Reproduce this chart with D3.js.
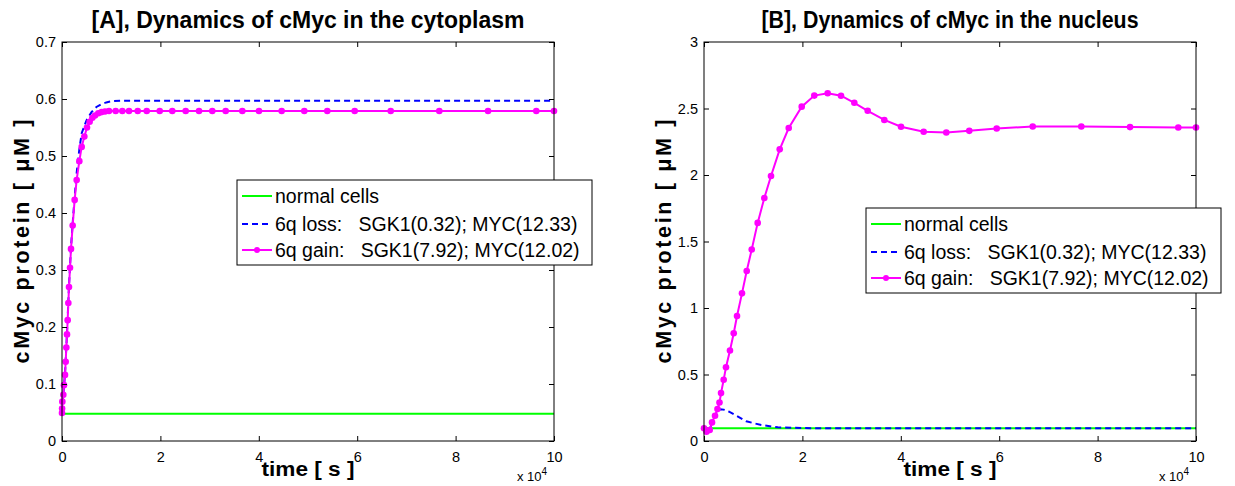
<!DOCTYPE html>
<html><head><meta charset="utf-8">
<script src="https://cdn.jsdelivr.net/npm/d3@7/dist/d3.min.js"></script>
<style>
body{margin:0;background:#fff;}
text{font-family:"Liberation Sans",Arial,sans-serif;fill:#000;}
</style></head><body>
<svg id="chart" width="1235" height="486"></svg>
<script>
// ---------- Panel A: cytoplasm ----------
const titleA = "[A], Dynamics of cMyc in the cytoplasm";
const yTicksA = [0, 0.1, 0.2, 0.3, 0.4, 0.5, 0.6, 0.7];
const yTickLabelsA = ["0", "0.1", "0.2", "0.3", "0.4", "0.5", "0.6", "0.7"];
const normalA = [[0, 0.048], [100000, 0.048]];
const lossA = [[0,0.049],[270,0.082],[610,0.118],[1020,0.19],[1420,0.272],[1830,0.34],[2170,0.382],[2570,0.428],[3000,0.472],[3500,0.51],[4000,0.54],[5000,0.563],[6000,0.577],[7000,0.586],[8000,0.591],[9000,0.594],[10000,0.596],[12000,0.597],[20000,0.597],[100000,0.597]];
const gainTimeA = [0,20,70,270,400,610,750,880,1020,1150,1290,1420,1630,1830,2170,2570,2980,3520,4000,4540,5080,5620,6170,6700,7380,8060,8740,9550,10910,12260,13620,15390,17220,19860,22420,25140,27850,30550,33270,36650,40040,44650,49250,53920,59490,66810,76690,86590,96400,100000];
const gainA = [0.049,0.057,0.069,0.081,0.098,0.116,0.139,0.164,0.187,0.212,0.242,0.270,0.304,0.337,0.378,0.423,0.458,0.491,0.516,0.534,0.550,0.560,0.567,0.571,0.575,0.577,0.578,0.579,0.579,0.579,0.579,0.579,0.579,0.579,0.579,0.579,0.579,0.579,0.579,0.579,0.579,0.579,0.579,0.579,0.579,0.579,0.579,0.579,0.579,0.579];

// ---------- Panel B: nucleus ----------
const titleB = "[B], Dynamics of cMyc in the nucleus";
const yTicksB = [0, 0.5, 1, 1.5, 2, 2.5, 3];
const yTickLabelsB = ["0", "0.5", "1", "1.5", "2", "2.5", "3"];
const normalB = [[0, 0.095], [100000, 0.095]];
const lossB = [[0,0.095],[500,0.07],[1160,0.083],[1630,0.14],[2240,0.19],[2740,0.225],[3300,0.238],[4000,0.236],[5000,0.222],[6240,0.197],[8600,0.148],[11650,0.12],[15000,0.103],[20000,0.097],[30000,0.095],[100000,0.095]];
const gainTimeB = [0,500,1160,1630,2240,2740,3150,3460,4000,4470,5280,6040,6710,7720,8680,9700,10910,12260,13620,15390,17220,19860,22420,25140,27850,30550,33270,36650,40040,44650,49250,53920,59490,66810,76690,86590,96400,100000];
const gainB = [0.095,0.07,0.083,0.14,0.19,0.24,0.29,0.36,0.46,0.555,0.68,0.81,0.94,1.11,1.278,1.44,1.64,1.827,1.992,2.193,2.353,2.514,2.597,2.615,2.596,2.543,2.483,2.414,2.363,2.325,2.320,2.332,2.350,2.365,2.365,2.360,2.357,2.357];

// ---------- shared ----------
const xTicks = [0, 20000, 40000, 60000, 80000, 100000];
const xTickLabels = ["0", "2", "4", "6", "8", "10"];
const legendLabels = ["normal cells", "6q loss:   SGK1(0.32); MYC(12.33)", "6q gain:   SGK1(7.92); MYC(12.02)"];
const yLabel = "cMyc protein [ \u03BCM ]";
const xLabel = "time [ s ]";

const svg = d3.select("#chart");

function panel(cfg) {
  const {left, right, top, bottom, yMax, yTicks, yTickLabels, title, titleLen, normal, loss, gainT, gainV, legend} = cfg;
  const x = d3.scaleLinear().domain([0, 100000]).range([left, right]);
  const y = d3.scaleLinear().domain([0, yMax]).range([bottom, top]);
  const g = svg.append("g");

  const line = d3.line().x(d => x(d[0])).y(d => y(d[1]));
  const clip = "clip" + left;
  svg.append("clipPath").attr("id", clip).append("rect").attr("x", left).attr("y", top - 4).attr("width", right - left + 4).attr("height", bottom - top + 8);
  const pg = g.append("g").attr("clip-path", `url(#${clip})`);
  pg.append("path").attr("d", line(normal)).attr("fill", "none").attr("stroke", "#00ff00").attr("stroke-width", 2);
  pg.append("path").attr("d", line(loss)).attr("fill", "none").attr("stroke", "#0000ff").attr("stroke-width", 2).attr("stroke-dasharray", "6,4");
  const gain = gainT.map((t, i) => [t, gainV[i]]);
  pg.append("path").attr("d", line(gain)).attr("fill", "none").attr("stroke", "#ff00ff").attr("stroke-width", 2);
  g.selectAll(null).data(gain).enter().append("circle")
    .attr("cx", d => x(d[0])).attr("cy", d => y(d[1])).attr("r", 3.3).attr("fill", "#ff00ff");

  // box
  g.append("rect").attr("x", left).attr("y", top).attr("width", right - left).attr("height", bottom - top)
    .attr("fill", "none").attr("stroke", "#000").attr("stroke-width", 1);

  // axes (ticks inside)
  const xb = g.append("g").attr("transform", `translate(0,${bottom})`)
    .call(d3.axisBottom(x).tickValues(xTicks).tickFormat((d, i) => xTickLabels[i]).tickSizeInner(-5).tickSizeOuter(0).tickPadding(11));
  const xt = g.append("g").attr("transform", `translate(0,${top})`)
    .call(d3.axisTop(x).tickValues(xTicks).tickFormat("").tickSizeInner(-5).tickSizeOuter(0));
  const yl = g.append("g").attr("transform", `translate(${left},0)`)
    .call(d3.axisLeft(y).tickValues(yTicks).tickFormat((d, i) => yTickLabels[i]).tickSizeInner(-5).tickSizeOuter(0).tickPadding(6));
  const yr = g.append("g").attr("transform", `translate(${right},0)`)
    .call(d3.axisRight(y).tickValues(yTicks).tickFormat("").tickSizeInner(-5).tickSizeOuter(0));
  [xb, xt, yl, yr].forEach(a => {
    a.select(".domain").remove();
    a.selectAll("line").attr("stroke", "#000");
    a.selectAll("text").attr("font-size", 14.5).attr("font-family", "Liberation Sans, Arial, sans-serif").attr("fill", "#000");
  });

  // x10^4
  const ex = g.append("text").attr("x", right - 37).attr("y", bottom + 40).attr("font-size", 13);
  ex.append("tspan").text("x 10");
  ex.append("tspan").attr("dy", -6).attr("font-size", 10).text("4");

  // title
  g.append("text").attr("x", (left + right) / 2).attr("y", 28).attr("text-anchor", "middle")
    .attr("font-size", 23).attr("font-weight", "bold")
    .attr("textLength", titleLen).attr("lengthAdjust", "spacingAndGlyphs").text(title);
  // labels
  g.append("text").attr("x", (left + right) / 2).attr("y", bottom + 35).attr("text-anchor", "middle")
    .attr("font-size", 20).attr("font-weight", "bold")
    .attr("textLength", 93).attr("lengthAdjust", "spacingAndGlyphs").text(xLabel);
  g.append("text").attr("transform", `translate(${left - 33},${(top + bottom) / 2}) rotate(-90)`).attr("text-anchor", "middle")
    .attr("font-size", 21.5).attr("font-weight", "bold")
    .attr("textLength", 244).attr("lengthAdjust", "spacing").text(yLabel);

  // legend
  const L = legend;
  const lg = g.append("g");
  lg.append("rect").attr("x", L.x).attr("y", L.y).attr("width", 355).attr("height", 85)
    .attr("fill", "#fff").attr("stroke", "#000").attr("stroke-width", 1);
  const rows = [16, 44, 70];
  const styles = [
    {stroke: "#00ff00", dash: null, marker: false},
    {stroke: "#0000ff", dash: "6,4", marker: false},
    {stroke: "#ff00ff", dash: null, marker: true}];
  legendLabels.forEach((lab, i) => {
    const yy = L.y + rows[i];
    const s = styles[i];
    const ln = lg.append("line").attr("x1", L.x + 5).attr("x2", L.x + 35).attr("y1", yy).attr("y2", yy)
      .attr("stroke", s.stroke).attr("stroke-width", 2);
    if (s.dash) ln.attr("stroke-dasharray", s.dash);
    if (s.marker) lg.append("circle").attr("cx", L.x + 20).attr("cy", yy).attr("r", 3).attr("fill", s.stroke);
    lg.append("text").attr("x", L.x + 38).attr("y", yy + 7).attr("font-size", 19.5)
      .attr("xml:space", "preserve").style("white-space", "pre").text(lab);
  });
}

panel({left: 62, right: 554, top: 42, bottom: 441, yMax: 0.7, yTicks: yTicksA, yTickLabels: yTickLabelsA,
  title: titleA, titleLen: 433, normal: normalA, loss: lossA, gainT: gainTimeA, gainV: gainA, legend: {x: 237, y: 180}});
panel({left: 704, right: 1196, top: 42, bottom: 441, yMax: 3, yTicks: yTicksB, yTickLabels: yTickLabelsB,
  title: titleB, titleLen: 377, normal: normalB, loss: lossB, gainT: gainTimeB, gainV: gainB, legend: {x: 866, y: 208}});
</script>
</body></html>
